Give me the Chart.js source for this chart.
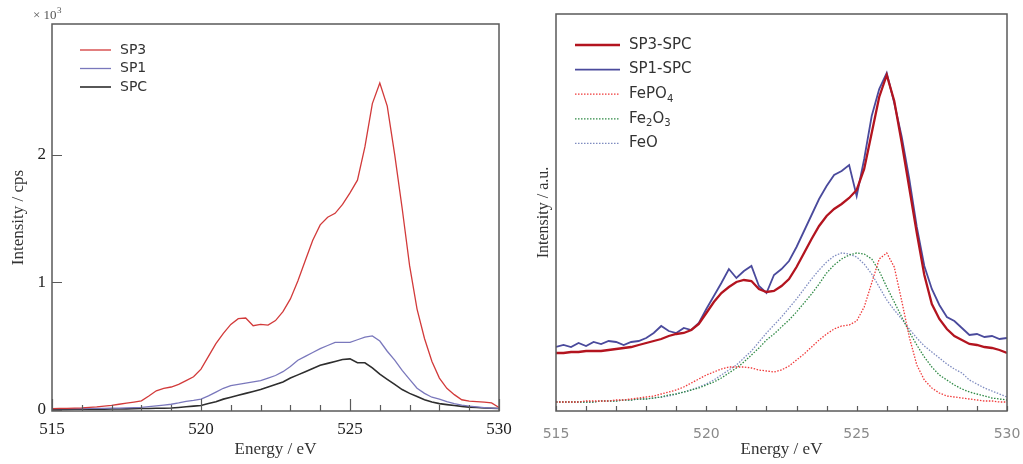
<!DOCTYPE html>
<html>
<head>
<meta charset="utf-8">
<script src="https://cdn.jsdelivr.net/npm/chart.js@4.4.1/dist/chart.umd.min.js"></script>
<style>
  body { margin: 0; background: #fff; width: 1023px; height: 464px; overflow: hidden; position: relative; }
  canvas { position: absolute; top: 0; }
  #leftChart { left: 0; }
  #rightChart { left: 520px; }
</style>
</head>
<body>
<canvas id="leftChart" width="520" height="464"></canvas>
<canvas id="rightChart" width="503" height="464"></canvas>
<script>
// แกนพลังงาน (eV) ใช้ร่วมกันทุกเส้น
const energy = [
  515.00, 515.25, 515.50, 515.75, 516.00, 516.25, 516.50, 516.75, 517.00, 517.25,
  517.50, 517.75, 518.00, 518.25, 518.50, 518.75, 519.00, 519.25, 519.50, 519.75,
  520.00, 520.25, 520.50, 520.75, 521.00, 521.25, 521.50, 521.75, 522.00, 522.25,
  522.50, 522.75, 523.00, 523.25, 523.50, 523.75, 524.00, 524.25, 524.50, 524.75,
  525.00, 525.25, 525.50, 525.75, 526.00, 526.25, 526.50, 526.75, 527.00, 527.25,
  527.50, 527.75, 528.00, 528.25, 528.50, 528.75, 529.00, 529.25, 529.50, 529.75,
  530.00
];

// กราฟซ้าย (x10^3 cps)
const sp3 = [
  0.010, 0.012, 0.012, 0.014, 0.016, 0.020, 0.024, 0.030, 0.036, 0.045,
  0.053, 0.062, 0.072, 0.110, 0.150, 0.170, 0.180, 0.200, 0.230, 0.260,
  0.320, 0.420, 0.520, 0.600, 0.670, 0.715, 0.720, 0.660, 0.670, 0.665,
  0.700, 0.770, 0.870, 1.010, 1.170, 1.330, 1.450, 1.510, 1.540, 1.610,
  1.700, 1.800, 2.060, 2.400, 2.560, 2.380, 2.000, 1.580, 1.130, 0.790,
  0.560, 0.380, 0.250, 0.170, 0.120, 0.080, 0.070, 0.066, 0.062, 0.055,
  0.020
];
const sp1 = [
  0.010, 0.010, 0.010, 0.011, 0.011, 0.012, 0.012, 0.013, 0.014, 0.015,
  0.017, 0.019, 0.021, 0.026, 0.032, 0.038, 0.045, 0.055, 0.068, 0.075,
  0.085, 0.110, 0.140, 0.170, 0.190, 0.200, 0.210, 0.220, 0.230, 0.250,
  0.270, 0.300, 0.340, 0.390, 0.420, 0.450, 0.480, 0.505, 0.530, 0.530,
  0.530, 0.550, 0.570, 0.580, 0.540, 0.460, 0.390, 0.310, 0.240, 0.170,
  0.130, 0.100, 0.085, 0.065, 0.050, 0.038, 0.030, 0.024, 0.019, 0.015,
  0.012
];
const spc = [
  0.005, 0.005, 0.005, 0.006, 0.006, 0.006, 0.007, 0.007, 0.008, 0.008,
  0.009, 0.010, 0.011, 0.012, 0.013, 0.014, 0.015, 0.020, 0.025, 0.030,
  0.035, 0.050, 0.065, 0.085, 0.100, 0.115, 0.130, 0.145, 0.160, 0.180,
  0.200, 0.220, 0.250, 0.275, 0.300, 0.325, 0.350, 0.365, 0.380, 0.395,
  0.400, 0.370, 0.370, 0.330, 0.280, 0.240, 0.200, 0.160, 0.130, 0.105,
  0.080, 0.062, 0.050, 0.042, 0.035, 0.028, 0.022, 0.019, 0.016, 0.014,
  0.012
];

// กราฟขวา (a.u.)
const sp3Diff = [
  0.58, 0.58, 0.59, 0.59, 0.60, 0.60, 0.60, 0.61, 0.62, 0.63,
  0.64, 0.66, 0.68, 0.70, 0.72, 0.75, 0.77, 0.78, 0.81, 0.87,
  0.98, 1.09, 1.18, 1.24, 1.29, 1.31, 1.30, 1.22, 1.19, 1.20,
  1.25, 1.32, 1.44, 1.58, 1.72, 1.85, 1.95, 2.02, 2.07, 2.13,
  2.21, 2.42, 2.78, 3.14, 3.36, 3.10, 2.68, 2.23, 1.78, 1.36,
  1.07, 0.92, 0.82, 0.75, 0.71, 0.67, 0.66, 0.64, 0.63, 0.61,
  0.58
];
const sp1Diff = [
  0.64, 0.66, 0.64, 0.68, 0.65, 0.69, 0.67, 0.70, 0.69, 0.66,
  0.69, 0.70, 0.73, 0.78, 0.85, 0.80, 0.78, 0.83, 0.81, 0.88,
  1.02, 1.15, 1.28, 1.42, 1.33, 1.40, 1.45, 1.25, 1.18, 1.36,
  1.42, 1.50, 1.64, 1.80, 1.96, 2.12, 2.25, 2.36, 2.40, 2.46,
  2.15, 2.52, 2.95, 3.22, 3.38, 3.08, 2.74, 2.32, 1.84, 1.45,
  1.22, 1.06, 0.94, 0.90, 0.83, 0.76, 0.77, 0.74, 0.75, 0.72,
  0.73
];
const fePO4 = [
  0.09, 0.09, 0.09, 0.09, 0.10, 0.10, 0.10, 0.10, 0.11, 0.11,
  0.12, 0.13, 0.14, 0.15, 0.17, 0.19, 0.21, 0.24, 0.28, 0.32,
  0.36, 0.39, 0.42, 0.44, 0.44, 0.44, 0.43, 0.41, 0.40, 0.39,
  0.41, 0.45, 0.51, 0.57, 0.64, 0.71, 0.77, 0.82, 0.85, 0.86,
  0.90, 1.04, 1.28, 1.52, 1.58, 1.44, 1.10, 0.74, 0.46, 0.31,
  0.23, 0.18, 0.15, 0.14, 0.13, 0.12, 0.11, 0.10, 0.10, 0.09,
  0.09
];
const fe2O3 = [
  0.09, 0.09, 0.09, 0.09, 0.09, 0.09, 0.10, 0.10, 0.10, 0.11,
  0.11, 0.12, 0.12, 0.13, 0.14, 0.16, 0.17, 0.19, 0.21, 0.23,
  0.26, 0.29, 0.33, 0.38, 0.43, 0.49, 0.56, 0.63, 0.71, 0.77,
  0.84, 0.91, 0.99, 1.08, 1.17, 1.27, 1.38, 1.46, 1.52, 1.56,
  1.58, 1.57, 1.52, 1.40, 1.24, 1.09, 0.94, 0.79, 0.66, 0.54,
  0.44, 0.36, 0.31, 0.26, 0.22, 0.19, 0.17, 0.15, 0.13, 0.12,
  0.11
];
const feO = [
  0.09, 0.09, 0.09, 0.09, 0.09, 0.09, 0.10, 0.10, 0.10, 0.11,
  0.11, 0.12, 0.12, 0.13, 0.14, 0.15, 0.17, 0.19, 0.21, 0.24,
  0.27, 0.31, 0.36, 0.41, 0.46, 0.53, 0.60, 0.69, 0.78, 0.86,
  0.94, 1.03, 1.12, 1.22, 1.32, 1.41, 1.49, 1.55, 1.58, 1.57,
  1.54, 1.47, 1.37, 1.24, 1.11, 1.01, 0.92, 0.82, 0.73, 0.65,
  0.59, 0.53, 0.47, 0.42, 0.38, 0.31, 0.27, 0.23, 0.20, 0.17,
  0.14
];

// ป้ายแกน
const xTicks = [515, 520, 525, 530];
const xMinorTicks = [515, 516, 517, 518, 519, 520, 521, 522, 523, 524, 525, 526, 527, 528, 529, 530];
const leftYTicks = [0, 1, 2];

function toPoints(values) {
  return values.map((v, i) => ({ x: energy[i], y: v }));
}

/**
 * วาดกรอบรอบพื้นที่กราฟ และขีดแกนแบบชี้เข้าด้านใน
 */
const framePlugin = {
  id: 'frame',
  afterDatasetsDraw(chart, args, opts) {
    const { ctx, chartArea: a, scales } = chart;
    ctx.save();
    ctx.strokeStyle = '#5a5a5a';
    ctx.lineWidth = 1.5;
    ctx.strokeRect(a.left, a.top, a.right - a.left, a.bottom - a.top);
    ctx.lineWidth = 1.2;
    ctx.beginPath();
    xMinorTicks.forEach(v => {
      const px = Math.round(scales.x.getPixelForValue(v)) + 0.5;
      const len = xTicks.includes(v) ? opts.majorLen : opts.minorLen;
      ctx.moveTo(px, a.bottom);
      ctx.lineTo(px, a.bottom - len);
    });
    (opts.yTicks || []).forEach(v => {
      const py = Math.round(scales.y.getPixelForValue(v)) + 0.5;
      ctx.moveTo(a.left, py);
      ctx.lineTo(a.left + 10, py);
    });
    ctx.stroke();
    if (opts.exponent) {
      ctx.fillStyle = '#555';
      ctx.font = "13px 'Liberation Serif', serif";
      ctx.textBaseline = 'alphabetic';
      ctx.fillText('\u00d7 10', 33, 19);
      ctx.font = "9px 'Liberation Serif', serif";
      ctx.fillText('3', 57, 13);
    }
    ctx.restore();
  }
};

/**
 * คำอธิบายเส้น (legend) วาดเองภายในกรอบ รองรับตัวห้อย
 */
const legendPlugin = {
  id: 'boxLegend',
  afterDraw(chart, args, opts) {
    const ctx = chart.ctx;
    ctx.save();
    opts.items.forEach((item, i) => {
      const y = opts.y + i * opts.gap;
      ctx.strokeStyle = item.color;
      ctx.lineWidth = item.width;
      ctx.setLineDash(item.dash || []);
      ctx.beginPath();
      ctx.moveTo(opts.x, y);
      ctx.lineTo(opts.x + opts.len, y);
      ctx.stroke();
      ctx.setLineDash([]);
      ctx.fillStyle = '#333';
      ctx.textBaseline = 'middle';
      let tx = opts.x + opts.len + opts.textGap;
      item.parts.forEach(p => {
        const sub = p[1];
        ctx.font = (sub ? opts.subSize : opts.fontSize) + "px 'DejaVu Sans', sans-serif";
        ctx.fillText(p[0], tx, y + (sub ? 5 : 0));
        tx += ctx.measureText(p[0]).width;
      });
    });
    ctx.restore();
  }
};

const serif = "'Liberation Serif', 'Times New Roman', serif";

// ตัดระยะเผื่อขอบที่ Chart.js เพิ่มให้ป้ายตัวเลขปลายแกน
function fitX(s) {
  s.height = 53;
  s.paddingLeft = 0;
  s.paddingRight = 0;
}

// ---------- กราฟซ้าย ----------
new Chart(document.getElementById('leftChart'), {
  type: 'line',
  data: {
    datasets: [
      { label: 'SP3', data: toPoints(sp3), borderColor: '#d23a3a', borderWidth: 1.3 },
      { label: 'SP1', data: toPoints(sp1), borderColor: '#7a78bc', borderWidth: 1.3 },
      { label: 'SPC', data: toPoints(spc), borderColor: '#2e2e2e', borderWidth: 1.6 }
    ]
  },
  options: {
    responsive: false,
    animation: false,
    devicePixelRatio: 1,
    elements: { point: { radius: 0 }, line: { tension: 0 } },
    layout: { padding: { left: 0, top: 24, right: 21, bottom: 0 } },
    plugins: {
      legend: { display: false },
      tooltip: { enabled: false },
      frame: { majorLen: 12, minorLen: 6, yTicks: leftYTicks, exponent: true },
      boxLegend: {
        x: 80, y: 50, gap: 18.5, len: 31, textGap: 9, fontSize: 14, subSize: 10,
        items: [
          { parts: [['SP3', 0]], color: '#d23a3a', width: 1.3 },
          { parts: [['SP1', 0]], color: '#7a78bc', width: 1.3 },
          { parts: [['SPC', 0]], color: '#2e2e2e', width: 1.6 }
        ]
      }
    },
    scales: {
      x: {
        type: 'linear', min: 515, max: 530,
        afterBuildTicks: s => { s.ticks = xTicks.map(v => ({ value: v })); },
        afterFit: fitX,
        grid: { display: false, drawTicks: false },
        border: { display: false },
        ticks: { color: '#222', font: { family: serif, size: 17 }, padding: 8, maxRotation: 0 },
        title: { display: true, text: 'Energy / eV', color: '#333', font: { family: serif, size: 17 }, padding: { top: 0 } }
      },
      y: {
        min: -0.008, max: 3.023,
        afterBuildTicks: s => { s.ticks = leftYTicks.map(v => ({ value: v })); },
        afterFit: s => { s.width = 52; },
        grid: { display: false, drawTicks: false },
        border: { display: false },
        ticks: { color: '#222', font: { family: serif, size: 17 }, padding: 6 },
        title: { display: true, text: 'Intensity / cps', color: '#333', font: { family: serif, size: 17 }, padding: { top: 8, bottom: 0 } }
      }
    }
  },
  plugins: [framePlugin, legendPlugin]
});

// ---------- กราฟขวา ----------
new Chart(document.getElementById('rightChart'), {
  type: 'line',
  data: {
    datasets: [
      { label: 'SP3-SPC', data: toPoints(sp3Diff), borderColor: '#b3141f', borderWidth: 2.3 },
      { label: 'SP1-SPC', data: toPoints(sp1Diff), borderColor: '#4a4a9c', borderWidth: 1.8 },
      { label: 'FePO4', data: toPoints(fePO4), borderColor: '#f03a3a', borderWidth: 1.3, borderDash: [1.5, 1.5] },
      { label: 'Fe2O3', data: toPoints(fe2O3), borderColor: '#2f8a45', borderWidth: 1.3, borderDash: [1.5, 1.5] },
      { label: 'FeO', data: toPoints(feO), borderColor: '#7f8cc0', borderWidth: 1.3, borderDash: [1.5, 1.5] }
    ]
  },
  options: {
    responsive: false,
    animation: false,
    devicePixelRatio: 1,
    elements: { point: { radius: 0 }, line: { tension: 0 } },
    layout: { padding: { left: 0, top: 14, right: 16, bottom: 0 } },
    plugins: {
      legend: { display: false },
      tooltip: { enabled: false },
      frame: { majorLen: 5, minorLen: 5, yTicks: [], exponent: false },
      boxLegend: {
        x: 55, y: 45, gap: 24.6, len: 45, textGap: 9, fontSize: 15, subSize: 10,
        items: [
          { parts: [['SP3-SPC', 0]], color: '#b3141f', width: 2.3 },
          { parts: [['SP1-SPC', 0]], color: '#4a4a9c', width: 1.8 },
          { parts: [['FePO', 0], ['4', 1]], color: '#f03a3a', width: 1.3, dash: [1.5, 1.5] },
          { parts: [['Fe', 0], ['2', 1], ['O', 0], ['3', 1]], color: '#2f8a45', width: 1.3, dash: [1.5, 1.5] },
          { parts: [['FeO', 0]], color: '#7f8cc0', width: 1.3, dash: [1.5, 1.5] }
        ]
      }
    },
    scales: {
      x: {
        type: 'linear', min: 515, max: 530,
        afterBuildTicks: s => { s.ticks = xTicks.map(v => ({ value: v })); },
        afterFit: fitX,
        grid: { display: false, drawTicks: false },
        border: { display: false },
        ticks: { color: '#8a8a8a', font: { family: "'DejaVu Sans', sans-serif", size: 14 }, padding: 15, maxRotation: 0 },
        title: { display: true, text: 'Energy / eV', color: '#333', font: { family: serif, size: 17 }, padding: { top: 0 } }
      },
      y: {
        min: 0, max: 3.97,
        afterFit: s => { s.width = 36; },
        grid: { display: false, drawTicks: false },
        border: { display: false },
        ticks: { display: false },
        title: { display: true, text: 'Intensity / a.u.', color: '#333', font: { family: serif, size: 16 }, padding: { top: 14, bottom: 0 } }
      }
    }
  },
  plugins: [framePlugin, legendPlugin]
});
</script>
</body>
</html>
